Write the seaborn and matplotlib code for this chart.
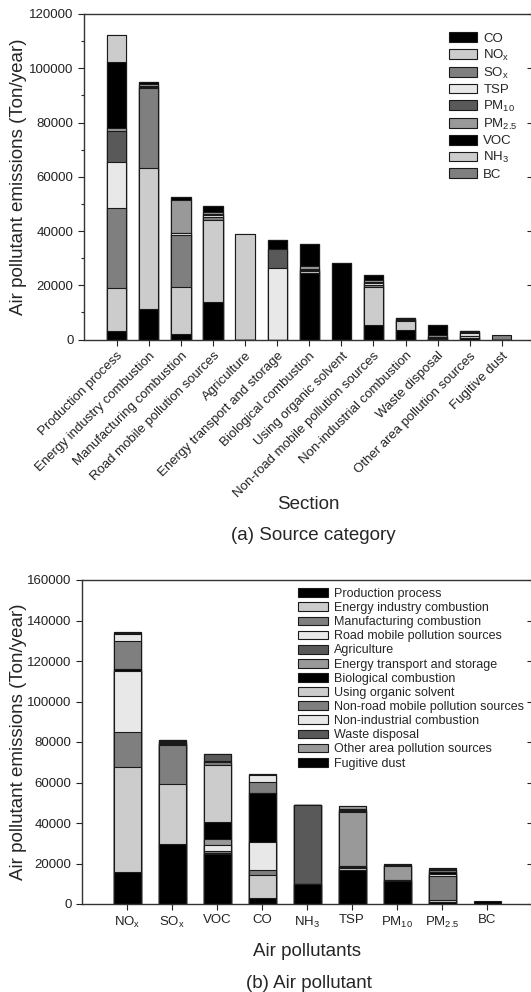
import pandas as pd
import matplotlib
matplotlib.use('Agg')
import matplotlib.pyplot as plt
import seaborn as sns
from matplotlib.patches import Patch
from matplotlib.ticker import MultipleLocator

# emission sources (x axis of panel a, stack layers of panel b)
sources = ['Production process', 'Energy industry combustion', 'Manufacturing combustion',
           'Road mobile pollution sources', 'Agriculture', 'Energy transport and storage',
           'Biological combustion', 'Using organic solvent', 'Non-road mobile pollution sources',
           'Non-industrial combustion', 'Waste disposal', 'Other area pollution sources',
           'Fugitive dust']

# pollutants (stack layers of panel a)
pollutants = ['CO', 'NOx', 'SOx', 'TSP', 'PM10', 'PM2.5', 'VOC', 'NH3', 'BC']
pollutant_labels = ['CO', 'NO$_x$', 'SO$_x$', 'TSP', 'PM$_{10}$', 'PM$_{2.5}$', 'VOC', 'NH$_3$', 'BC']

# panel b order of pollutants on the x axis
order_b = ['NOx', 'SOx', 'VOC', 'CO', 'NH3', 'TSP', 'PM10', 'PM2.5', 'BC']
order_b_labels = ['NO$_x$', 'SO$_x$', 'VOC', 'CO', 'NH$_3$', 'TSP', 'PM$_{10}$', 'PM$_{2.5}$', 'BC']

# emissions in ton/year, one list per pollutant, in the order of `sources`
co   = [3100, 11400, 2200, 13700, 0, 0, 24500, 0, 5300, 3400, 100, 700, 0]
nox  = [15800, 51700, 17200, 30500, 0, 0, 800, 0, 13900, 3300, 400, 500, 0]
sox  = [29600, 29500, 19200, 800, 0, 0, 200, 0, 800, 600, 300, 100, 0]
tsp  = [17000, 600, 600, 800, 0, 26500, 300, 0, 800, 200, 200, 1200, 0]
pm10 = [11300, 200, 100, 300, 0, 6900, 100, 0, 300, 100, 100, 200, 0]
pm25 = [1000, 800, 12200, 800, 0, 0, 1200, 0, 800, 200, 500, 300, 0]
voc  = [24500, 800, 1100, 2500, 0, 3400, 8000, 28300, 1700, 300, 3600, 100, 0]
nh3  = [9800, 100, 0, 0, 39000, 0, 0, 0, 0, 0, 0, 0, 0]
bc   = [200, 0, 0, 0, 0, 0, 0, 0, 0, 0, 0, 0, 1500]

gray_cycle = ['#000000', '#cccccc', '#7f7f7f', '#e8e8e8', '#595959', '#999999']
edge = '#1a1a1a'

table = pd.DataFrame({'CO': co, 'NOx': nox, 'SOx': sox, 'TSP': tsp, 'PM10': pm10,
                      'PM2.5': pm25, 'VOC': voc, 'NH3': nh3, 'BC': bc}, index=sources)

sns.set_style('ticks')
plt.rcParams['font.family'] = ['Liberation Sans', 'DejaVu Sans']
plt.rcParams['mathtext.fontset'] = 'custom'
plt.rcParams['mathtext.rm'] = 'Liberation Sans'
plt.rcParams['mathtext.default'] = 'regular'


def stacked_bars(ax, data, layers, colors):
    cats = list(data.index)
    cum = data[layers].cumsum(axis=1)
    # draw the tallest cumulative layer first so lower layers sit on top of it
    for layer, color in reversed(list(zip(layers, colors))):
        sns.barplot(x=cats, y=cum[layer].values, color=color, saturation=1, width=0.6,
                    edgecolor=edge, linewidth=0.8, errorbar=None, ax=ax)


def style_axes(ax, ymax, minor):
    for s in ax.spines.values():
        s.set_color('#333333')
        s.set_linewidth(1.0)
    ax.set_ylim(0, ymax)
    ax.yaxis.set_major_locator(MultipleLocator(20000))
    if minor:
        ax.yaxis.set_minor_locator(MultipleLocator(10000))
    ax.tick_params(axis='both', which='major', direction='out', length=4, width=0.8,
                   labelsize=9.5, colors='#222222')
    ax.tick_params(axis='y', which='minor', direction='out', length=2.5, width=0.8)
    sec = ax.secondary_yaxis('right')
    sec.yaxis.set_major_locator(MultipleLocator(20000))
    sec.tick_params(direction='in', length=4, width=0.8, labelright=False)
    sec.spines['right'].set_visible(False)


fig = plt.figure(figsize=(5.31, 9.92), dpi=100)
W, H = 531, 992

# ---- (a) source category ----  (right spine sits just past the image edge)
ax1 = fig.add_axes([84 / W, 1 - 339.5 / H, 449 / W, 325.5 / H])
colors_a = [gray_cycle[i % 6] for i in range(len(pollutants))]
stacked_bars(ax1, table, pollutants, colors_a)
ax1.set_xlim(-1.02, 12.97)
style_axes(ax1, 120000, True)
ax1.set_xticks(range(len(sources)))
ax1.set_xticklabels(sources, rotation=45, ha='right', rotation_mode='anchor')
ax1.set_xlabel('')
ax1.set_ylabel('Air pollutant emissions (Ton/year)', fontsize=13.5)
ax1.yaxis.set_label_coords(-0.127, 0.5)
handles_a = [Patch(facecolor=c, edgecolor=edge, linewidth=0.8) for c in colors_a]
ax1.legend(handles_a, pollutant_labels, loc='upper left', bbox_to_anchor=((449 - 84) / 449, 0.944),
           frameon=False, fontsize=9.5, handlelength=2.1, handleheight=0.75,
           handletextpad=0.5, labelspacing=0.22, borderpad=0, borderaxespad=0)
fig.text(308 / W, 1 - 505 / H, 'Section', ha='center', va='center', fontsize=13.5)
fig.text(313 / W, 1 - 536 / H, '(a) Source category', ha='center', va='center', fontsize=13.5)

# ---- (b) air pollutant ----
ax2 = fig.add_axes([82 / W, 1 - 904 / H, 451 / W, 324 / H])
table_b = table[order_b].T
colors_b = [gray_cycle[i % 6] for i in range(len(sources))]
stacked_bars(ax2, table_b, sources, colors_b)
ax2.set_xlim(-1.0, 9.02)
style_axes(ax2, 160000, False)
ax2.set_xticks(range(len(order_b)))
ax2.set_xticklabels(order_b_labels)
ax2.set_xlabel('')
ax2.set_ylabel('Air pollutant emissions (Ton/year)', fontsize=13.5)
ax2.yaxis.set_label_coords(-0.122, 0.5)
handles_b = [Patch(facecolor=c, edgecolor=edge, linewidth=0.8) for c in colors_b]
ax2.legend(handles_b, sources, loc='upper left', bbox_to_anchor=((298 - 82) / 451, 1 - (588 - 580) / 324),
           frameon=False, fontsize=9, handlelength=2.4, handleheight=0.7,
           handletextpad=0.5, labelspacing=0.17, borderpad=0, borderaxespad=0)
fig.text(307 / W, 1 - 952 / H, 'Air pollutants', ha='center', va='center', fontsize=13.5)
fig.text(309 / W, 1 - 984 / H, '(b) Air pollutant', ha='center', va='center', fontsize=13.5)

fig.savefig('out.png', dpi=100)
